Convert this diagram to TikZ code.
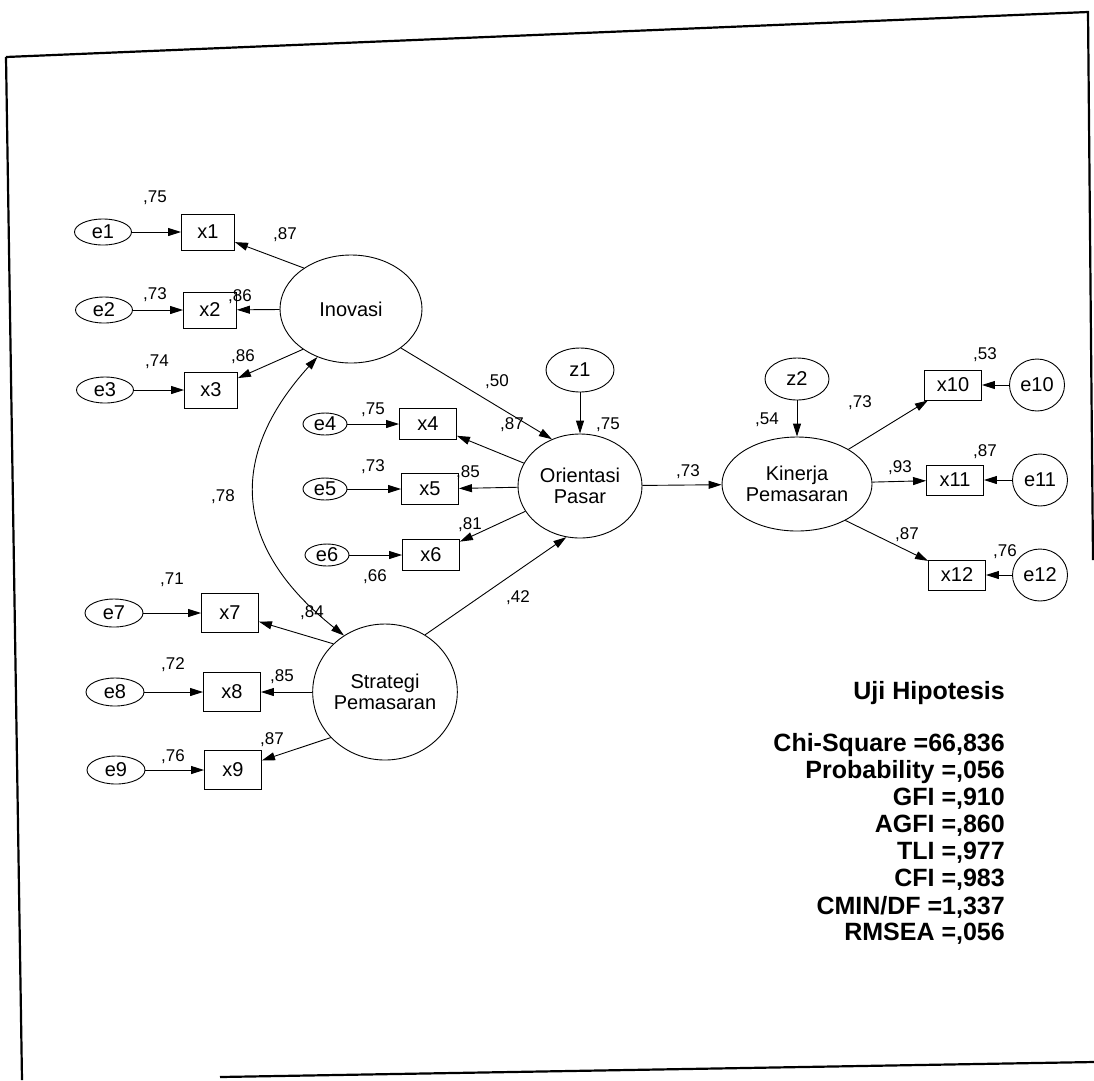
\documentclass[tikz,border=0pt]{standalone}
\usepackage{fontspec}
\setmainfont{Liberation Sans}
\usetikzlibrary{shapes.geometric,arrows.meta}
\begin{document}
\begin{tikzpicture}[x=1pt,y=-1pt,
  base/.style={draw, inner sep=0pt, line width=0.9pt, font=\fontsize{20}{21}\selectfont, align=center},
  lat/.style={base, ellipse},
  errA/.style={base, ellipse, minimum width=57pt, minimum height=26pt},
  errB/.style={base, ellipse, minimum width=44pt, minimum height=22pt},
  errC/.style={base, ellipse, minimum width=58pt, minimum height=28pt},
  errD/.style={base, ellipse, minimum width=55pt, minimum height=52pt},
  obsA/.style={base, rectangle, minimum width=53pt, minimum height=36pt},
  obsB/.style={base, rectangle, minimum width=57pt, minimum height=31pt},
  obsC/.style={base, rectangle, minimum width=57pt, minimum height=39pt},
  obsD/.style={base, rectangle, minimum width=57pt, minimum height=30pt},
  coef/.style={font=\fontsize{17}{17}\selectfont, inner sep=0pt},
  arr/.style={line width=0.9pt, -{Triangle[length=13pt,width=8pt]}},
  cov/.style={line width=0.9pt, {Triangle[length=13pt,width=8pt]}-{Triangle[length=13pt,width=8pt]}},
  stat/.style={font=\bfseries\fontsize{25}{25}\selectfont, anchor=east, inner sep=0pt},
  frame/.style={line width=2.2pt}
]
\useasboundingbox (0,0) rectangle (1094,1080);

% frame
\draw[frame] (6,57) -- (1088,12) -- (1093,560);
\draw[frame] (6,57) -- (22,1080);
\draw[frame] (220,1077) -- (1094,1062);

% latent variables
\node[lat, minimum width=142pt, minimum height=108pt] (inov) at (351,309) {Inovasi};
\node[lat, minimum width=124pt, minimum height=104pt] (op) at (580,486) {Orientasi\\Pasar};
\node[lat, minimum width=142pt, minimum height=136pt] (strat) at (385,692) {Strategi\\Pemasaran};
\node[lat, minimum width=150pt, minimum height=94pt] (kp) at (797,484) {Kinerja\\Pemasaran};
\node[lat, minimum width=68pt, minimum height=44pt] (z1) at (580,370) {z1};
\node[lat, minimum width=64pt, minimum height=42pt] (z2) at (797,379) {z2};

% indicators
\node[obsA] (x1) at (208,232) {x1};
\node[obsA] (x2) at (210,310) {x2};
\node[obsA] (x3) at (211,390) {x3};
\node[obsB] (x4) at (428,424) {x4};
\node[obsB] (x5) at (430,489) {x5};
\node[obsB] (x6) at (431,555) {x6};
\node[obsC] (x7) at (230,613) {x7};
\node[obsC] (x8) at (232,692) {x8};
\node[obsC] (x9) at (233,770) {x9};
\node[obsD] (x10) at (953,385) {x10};
\node[obsD] (x11) at (955,480) {x11};
\node[obsD] (x12) at (957,575) {x12};

% errors
\node[errA] (e1) at (103,232) {e1};
\node[errA] (e2) at (104,310) {e2};
\node[errA] (e3) at (105,390) {e3};
\node[errB] (e4) at (325,424) {e4};
\node[errB] (e5) at (325,489) {e5};
\node[errB] (e6) at (327,555) {e6};
\node[errC] (e7) at (114,613) {e7};
\node[errC] (e8) at (115,692) {e8};
\node[errC] (e9) at (116,770) {e9};
\node[errD] (e10) at (1037,385) {e10};
\node[errD] (e11) at (1040,480) {e11};
\node[errD] (e12) at (1040,575) {e12};

% error arrows
\foreach \i in {1,...,12} {\draw[arr] (e\i) -- (x\i);}

% loadings
\draw[arr] (inov.139) -- (x1);
\draw[arr] (inov) -- (x2);
\draw[arr] (inov.220) -- (x3);
\draw[arr] (op) -- (x4);
\draw[arr] (op) -- (x5);
\draw[arr] (op) -- (x6);
\draw[arr] (strat.137) -- (x7);
\draw[arr] (strat) -- (x8);
\draw[arr] (strat.220) -- (x9);
\draw[arr] (kp.34) -- (x10);
\draw[arr] (kp) -- (x11);
\draw[arr] (kp.-37) -- (x12);

% structural paths
\draw[arr] (inov.-38) -- (op.121);
\draw[arr] (strat.55) -- (op.255);
\draw[arr] (op) -- (kp);
\draw[arr] (z1) -- (op);
\draw[arr] (z2) -- (kp);
\draw[cov] (inov.235) .. controls (226,458) and (234,548) .. (strat.126);

% coefficients
\node[coef] at (155,198) {,75};
\node[coef] at (155,295) {,73};
\node[coef] at (157,362) {,74};
\node[coef] at (285,235) {,87};
\node[coef] at (240,297) {,86};
\node[coef] at (243,357) {,86};
\node[coef] at (223,497) {,78};
\node[coef] at (497,382) {,50};
\node[coef] at (608,425) {,75};
\node[coef] at (373,410) {,75};
\node[coef] at (373,467) {,73};
\node[coef] at (375,577) {,66};
\node[coef] at (512,425) {,87};
\node[coef] at (468,473) {,85};
\node[coef] at (470,525) {,81};
\node[coef] at (518,598) {,42};
\node[coef] at (312,613) {,84};
\node[coef] at (172,580) {,71};
\node[coef] at (173,665) {,72};
\node[coef] at (173,757) {,76};
\node[coef] at (282,677) {,85};
\node[coef] at (272,740) {,87};
\node[coef] at (688,472) {,73};
\node[coef] at (767,420) {,54};
\node[coef] at (860,403) {,73};
\node[coef] at (900,468) {,93};
\node[coef] at (907,535) {,87};
\node[coef] at (985,355) {,53};
\node[coef] at (985,452) {,87};
\node[coef] at (1005,552) {,76};

% fit statistics
\node[stat] (title) at (1005,693) {Uji Hipotesis};
\node[stat] (s1) at (1005,745) {Chi-Square =66,836};
\node[stat] (s2) at (1005,772) {Probability =,056};
\node[stat] (s3) at (1005,799) {GFI =,910};
\node[stat] (s4) at (1005,826) {AGFI =,860};
\node[stat] (s5) at (1005,853) {TLI =,977};
\node[stat] (s6) at (1005,880) {CFI =,983};
\node[stat] (s7) at (1005,907) {CMIN/DF =1,337};
\node[stat] (s8) at (1005,934) {RMSEA =,056};
\end{tikzpicture}
\end{document}
